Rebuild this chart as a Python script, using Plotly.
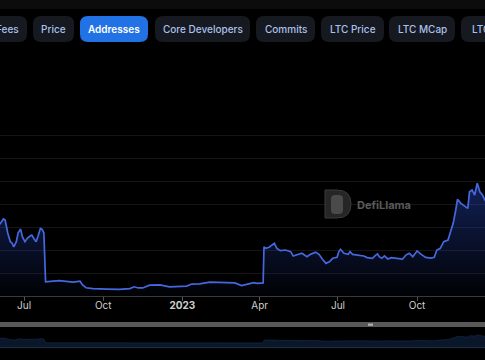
import plotly.graph_objects as go

# ---------------- data ----------------
dates = [
    "2022-05-31", "2022-06-03", "2022-06-07", "2022-06-09", "2022-06-12", "2022-06-15", "2022-06-17",
    "2022-06-19", "2022-06-22", "2022-06-24", "2022-06-27", "2022-06-29", "2022-07-02", "2022-07-05",
    "2022-07-08", "2022-07-10", "2022-07-12", "2022-07-15", "2022-07-17", "2022-07-20", "2022-07-22",
    "2022-07-24", "2022-07-26", "2022-07-29", "2022-08-04", "2022-08-11", "2022-08-19", "2022-08-27",
    "2022-09-04", "2022-09-07", "2022-09-11", "2022-09-19", "2022-10-05", "2022-10-20", "2022-11-01",
    "2022-11-06", "2022-11-11", "2022-11-16", "2022-11-24", "2022-12-06", "2022-12-17", "2022-12-29",
    "2023-01-06", "2023-01-12", "2023-01-21", "2023-02-02", "2023-02-14", "2023-02-22", "2023-03-03",
    "2023-03-11", "2023-03-17", "2023-03-25", "2023-03-29", "2023-04-05", "2023-04-06", "2023-04-08",
    "2023-04-12", "2023-04-16", "2023-04-18", "2023-04-21", "2023-04-25", "2023-05-01", "2023-05-07",
    "2023-05-10", "2023-05-16", "2023-05-20", "2023-05-26", "2023-05-30", "2023-06-05", "2023-06-09",
    "2023-06-13", "2023-06-17", "2023-06-21", "2023-06-25", "2023-06-30", "2023-07-02", "2023-07-04",
    "2023-07-08", "2023-07-13", "2023-07-15", "2023-07-18", "2023-07-24", "2023-07-31", "2023-08-04",
    "2023-08-10", "2023-08-14", "2023-08-16", "2023-08-18", "2023-08-21", "2023-08-24", "2023-08-28",
    "2023-09-01", "2023-09-09", "2023-09-14", "2023-09-18", "2023-09-22", "2023-09-26", "2023-10-01",
    "2023-10-05", "2023-10-11", "2023-10-17", "2023-10-21", "2023-10-24", "2023-10-28", "2023-11-01",
    "2023-11-06", "2023-11-09", "2023-11-12", "2023-11-15", "2023-11-17", "2023-11-21", "2023-11-27",
    "2023-11-29", "2023-12-01", "2023-12-04", "2023-12-07", "2023-12-10", "2023-12-13", "2023-12-16",
    "2023-12-19", "2023-12-22",
]
addresses = [
    3050, 3130, 3350, 3300, 2740, 2360, 2300,
    2140, 2360, 2740, 2910, 2580, 2360, 2520,
    2610, 2650, 2520, 2360, 2580, 2940, 2900,
    2740, 620, 620, 650, 670, 620, 600,
    640, 480, 360, 320, 300, 290, 320,
    400, 350, 350, 470, 480, 400, 400,
    430, 520, 530, 600, 600, 580, 570,
    450, 520, 580, 550, 570, 2140, 2070,
    2120, 2220, 2290, 2070, 1970, 2000, 1930,
    1740, 1810, 1860, 1710, 1810, 1900, 1810,
    1600, 1420, 1490, 1640, 1680, 1930, 2030,
    1860, 1810, 1930, 1810, 1780, 1740, 1670,
    1640, 1780, 1830, 1710, 1640, 1740, 1610,
    1670, 1640, 1600, 1780, 1860, 1710, 1960,
    1830, 1680, 1650, 1680, 2000, 2070, 2360,
    2430, 2800, 3160, 3740, 4200, 4030, 3860,
    3810, 4530, 4610, 4390, 4900, 4530, 4390,
    4170, 4000,
]

tick_dates = ["2022-07-01", "2022-10-01", "2023-01-01", "2023-04-01", "2023-07-01", "2023-10-01"]
tick_labels = ["Jul", "Oct", "<b>2023</b>", "Apr", "Jul", "Oct"]

tabs = ["Fees", "Price", "Addresses", "Core Developers", "Commits", "LTC Price", "LTC MCap", "LTC Volume"]
active_tab = "Addresses"

# ---------------- layout helpers (pixel -> paper) ----------------
W, H = 485, 360


def px(x):
    return x / W


def py(y):
    return (H - y) / H


def rounded(x0, y0, x1, y1, r):
    rx, ry = r / W, r / H
    a, b, c, d = px(x0), py(y0), px(x1), py(y1)  # b top, d bottom (paper)
    return (f"M {a+rx},{b} L {c-rx},{b} Q {c},{b} {c},{b-ry} "
            f"L {c},{d+ry} Q {c},{d} {c-rx},{d} L {a+rx},{d} Q {a},{d} {a},{d+ry} "
            f"L {a},{b-ry} Q {a},{b} {a+rx},{b} Z")


tab_boxes = [(-14, 27), (33, 74), (80, 148), (155, 250), (256, 315), (321, 384), (389, 455), (461, 560)]

fig = go.Figure()

LINE = "#4568df"

fig.add_trace(go.Scatter(
    x=dates, y=addresses, mode="lines",
    line=dict(color=LINE, width=1.7),
    fill="tozeroy",
    fillgradient=dict(type="vertical", start=0, stop=5000,
                      colorscale=[[0, "rgba(45,80,210,0.02)"], [1, "rgba(45,80,210,0.42)"]]),
    xaxis="x", yaxis="y", hoverinfo="skip", showlegend=False,
))

# mini overview (data zoom shadow)
mini_base = [-2250] * len(dates)
fig.add_trace(go.Scatter(x=dates, y=mini_base, mode="lines", line=dict(width=0),
                         xaxis="x2", yaxis="y2", hoverinfo="skip", showlegend=False))
fig.add_trace(go.Scatter(
    x=dates, y=addresses, mode="lines", fill="tonexty",
    line=dict(color="rgba(60,100,170,0.35)", width=0.6),
    fillcolor="rgba(35,80,150,0.28)",
    xaxis="x2", yaxis="y2", hoverinfo="skip", showlegend=False,
))

shapes = []
annotations = []

# top strip
shapes.append(dict(type="rect", xref="paper", yref="paper", x0=0, x1=1, y0=py(9), y1=1,
                   fillcolor="#0c0c0d", line=dict(width=0), layer="below"))

TAB_FONT = 10
for name, (x0, x1) in zip(tabs, tab_boxes):
    active = name == active_tab
    shapes.append(dict(type="path", xref="paper", yref="paper",
                       path=rounded(x0, 16, x1, 42, 8),
                       fillcolor="#2172e5" if active else "#16191f",
                       line=dict(width=0)))
    font = dict(family="Inter", size=TAB_FONT,
                color="#ffffff" if active else "#a9c1ee",
                weight=600 if active else 500)
    if name == "LTC Volume":
        annotations.append(dict(x=px(470), y=py(29), xref="paper", yref="paper", text=name,
                                showarrow=False, xanchor="left", yanchor="middle", font=font))
    elif name == "Fees":
        annotations.append(dict(x=px(21), y=py(29), xref="paper", yref="paper", text=name,
                                showarrow=False, xanchor="right", yanchor="middle", font=font))
    else:
        annotations.append(dict(x=px((x0 + x1) / 2), y=py(29), xref="paper", yref="paper", text=name,
                                showarrow=False, xanchor="center", yanchor="middle", font=font))

# watermark logo
shapes.append(dict(type="path", xref="paper", yref="paper",
                   path=(f"M {px(325)},{py(190)} L {px(337)},{py(190)} Q {px(351)},{py(190)} {px(351)},{py(204)} "
                         f"Q {px(351)},{py(218)} {px(337)},{py(218)} L {px(325)},{py(218)} Z"),
                   fillcolor="#262626", line=dict(color="#3a3a3a", width=1)))
shapes.append(dict(type="path", xref="paper", yref="paper",
                   path=rounded(331, 195, 343, 214, 4),
                   fillcolor="#4a4a4a", line=dict(width=0)))
annotations.append(dict(x=px(355), y=py(205), xref="paper", yref="paper", text="<b>DefiLlama</b>",
                        showarrow=False, xanchor="left", yanchor="middle",
                        font=dict(family="Inter", size=11, color="#5a5a5a")))

# data-zoom slider bar & border
shapes.append(dict(type="rect", xref="paper", yref="paper", x0=0, x1=1, y0=py(327), y1=py(322),
                   fillcolor="#585858", line=dict(width=0)))
shapes.append(dict(type="rect", xref="paper", yref="paper", x0=px(368), x1=px(373), y0=py(325.8), y1=py(323.6),
                   fillcolor="#b0b0b0", line=dict(width=0)))
shapes.append(dict(type="line", xref="paper", yref="paper", x0=0, x1=1, y0=py(347.6), y1=py(347.6),
                   line=dict(color="#24303e", width=1)))

fig.update_layout(
    width=W, height=H,
    margin=dict(l=0, r=0, t=0, b=0),
    paper_bgcolor="#000000", plot_bgcolor="#000000",
    showlegend=False,
    xaxis=dict(domain=[0, 1], anchor="y", type="date",
               range=["2022-06-03", "2023-12-19"],
               tickmode="array", tickvals=tick_dates, ticktext=tick_labels,
               showgrid=False, showline=True, linecolor="#3a3a3a", linewidth=1,
               ticks="",
               minor=dict(tickmode="array", tickvals=tick_dates, ticks="outside",
                          ticklen=4, tickcolor="#555555", showgrid=False),
               tickfont=dict(family="Inter", size=10, color="#cfcfcf"),
               zeroline=False, fixedrange=True),
    yaxis=dict(domain=[py(296), py(112)], anchor="x", range=[0, 8000], dtick=1000,
               showticklabels=False, showgrid=True, gridcolor="#151515", gridwidth=1,
               zeroline=False, fixedrange=True),
    xaxis2=dict(domain=[0, 1], anchor="y2", type="date",
                range=["2022-06-03", "2023-12-19"], visible=False, fixedrange=True),
    yaxis2=dict(domain=[py(348), py(328)], anchor="x2", range=[-2250, 8740],
                visible=False, fixedrange=True),
    shapes=shapes,
    annotations=annotations,
)

fig.write_html(
    "out.html",
    config={"displayModeBar": False},
    post_script="document.body.style.margin='0';document.body.style.background='#000';document.body.style.overflow='hidden';",
)
